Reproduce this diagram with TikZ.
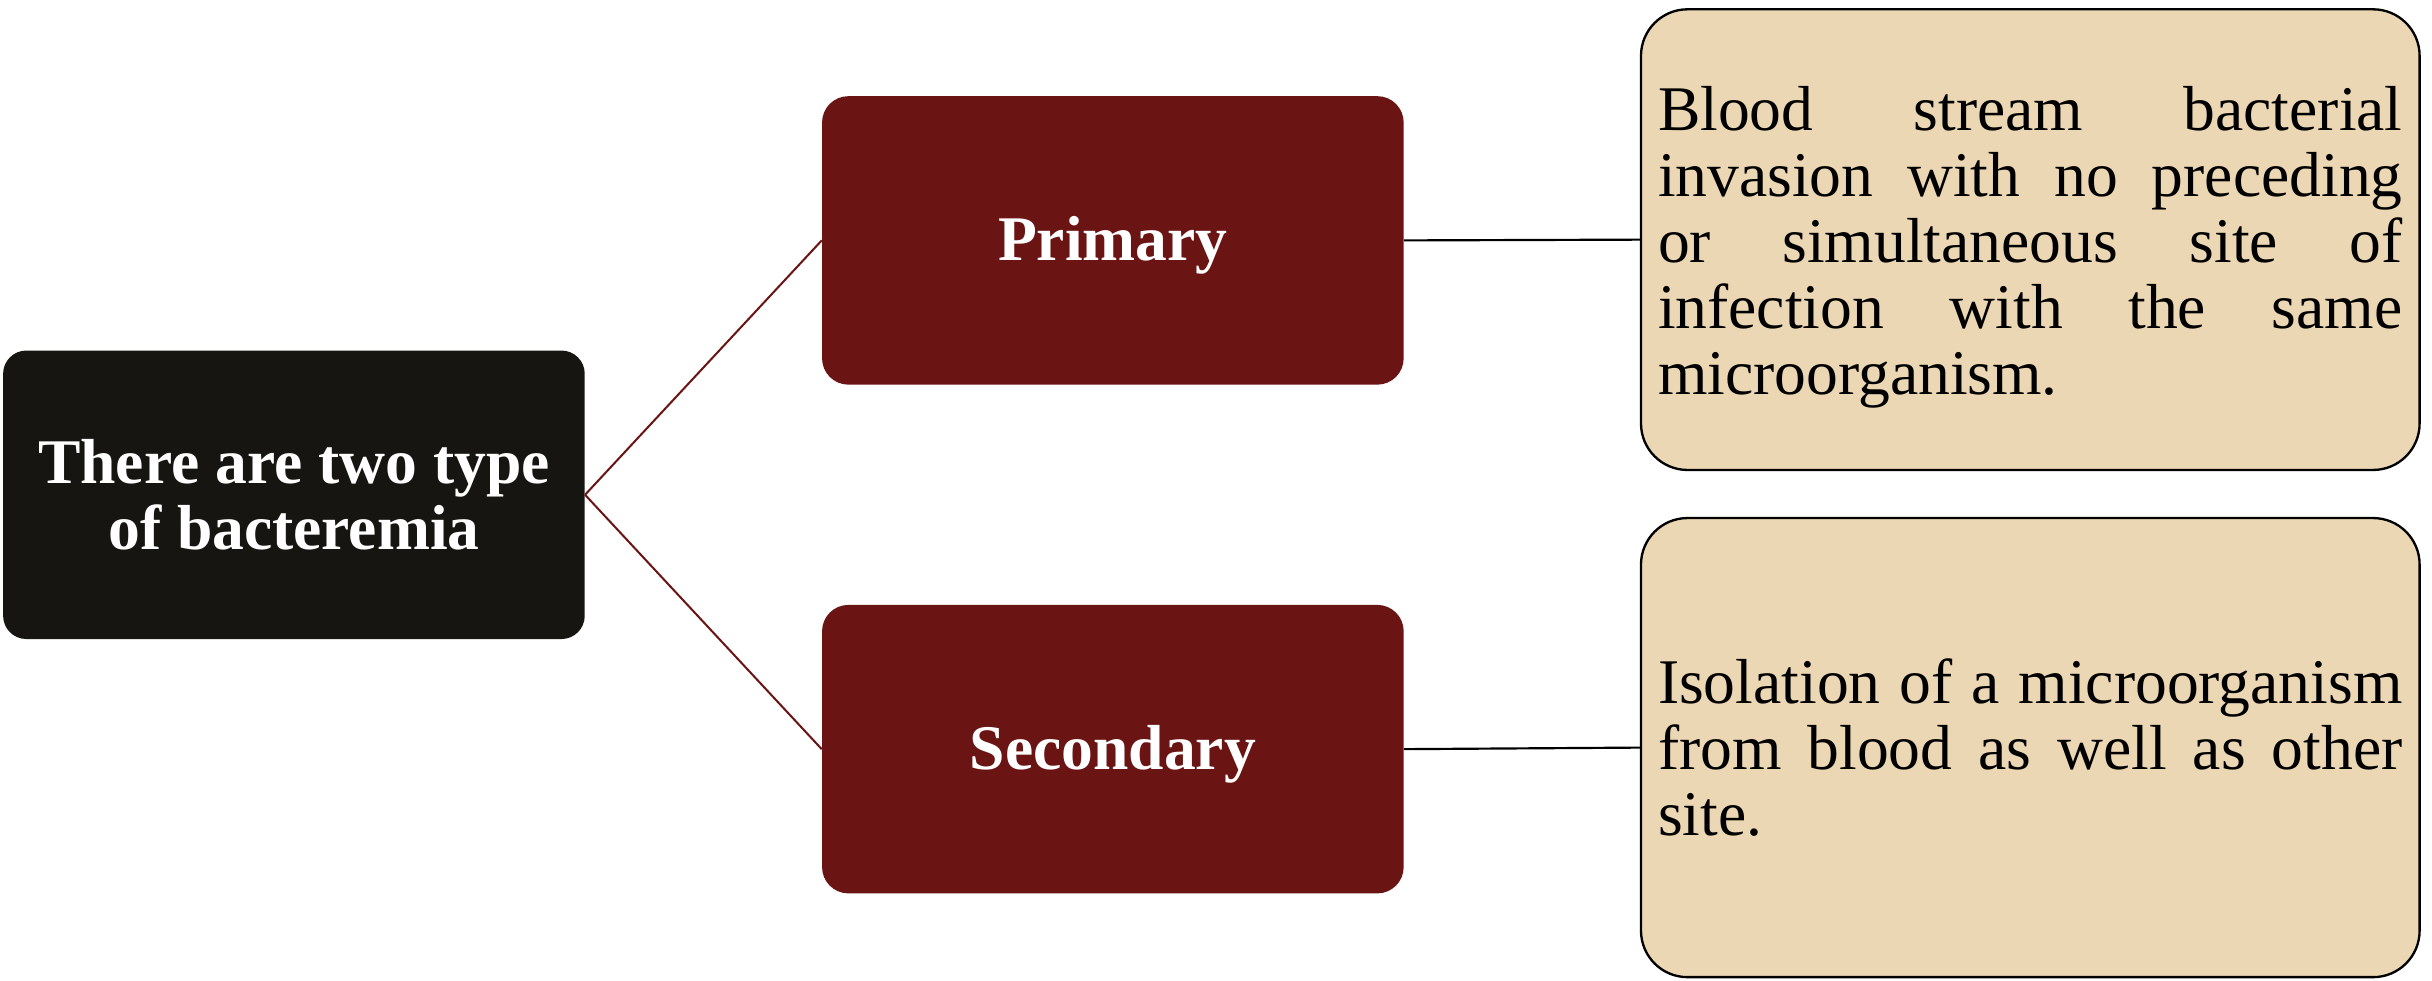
\documentclass[tikz,border=0pt]{standalone}
\usepackage{fontspec}
\setmainfont{Liberation Serif}
\definecolor{rootblack}{HTML}{161512}
\definecolor{maroon}{HTML}{6A1413}
\definecolor{beige}{HTML}{ECD7B4}
\begin{document}
\begin{tikzpicture}[x=1pt,y=-1pt,
  rootbox/.style={fill=rootblack, rounded corners=15pt, minimum width=375pt, minimum height=186pt,
    text=white, font=\fontsize{41}{43}\selectfont\bfseries, align=center, inner sep=0pt},
  typebox/.style={fill=maroon, rounded corners=17pt, minimum width=375pt, minimum height=186pt,
    text=white, font=\fontsize{41}{43}\selectfont\bfseries, inner sep=0pt,
    text height=35pt, text depth=9pt},
  descbox/.style={fill=beige, draw=black, line width=1.5pt, rounded corners=30pt,
    minimum width=502pt, text width=480pt, inner xsep=10.5pt, inner ysep=0pt,
    font=\fontsize{41}{42.5}\selectfont, align=justify},
  redlink/.style={draw=maroon, line width=1.3pt},
  blacklink/.style={draw=black, line width=1.4pt}]
\useasboundingbox (0,0) rectangle (1568,632);
\node[rootbox] (root) at (189.5,319) {There are two type\\of bacteremia};
\node[typebox] (prim) at (717.5,155) {Primary};
\node[typebox] (sec) at (717.5,483) {Secondary};
\node[descbox, minimum height=297pt] (d1) at (1309,154.5)
  {\tolerance=9999\hyphenpenalty=10000 \rule{0pt}{38pt}Blood stream bacterial\linebreak invasion with no preceding\linebreak or simultaneous site of\linebreak infection with the same\linebreak microorganism.};
\node[descbox, minimum height=296pt] (d2) at (1309,482)
  {\tolerance=9999\hyphenpenalty=10000 Isolation of a microorganism\linebreak from blood as well as other\linebreak site.};
\draw[redlink] (root.east) -- (prim.west);
\draw[redlink] (root.east) -- (sec.west);
\draw[blacklink] (prim.east) -- (d1.west);
\draw[blacklink] (sec.east) -- (d2.west);
\end{tikzpicture}
\end{document}
